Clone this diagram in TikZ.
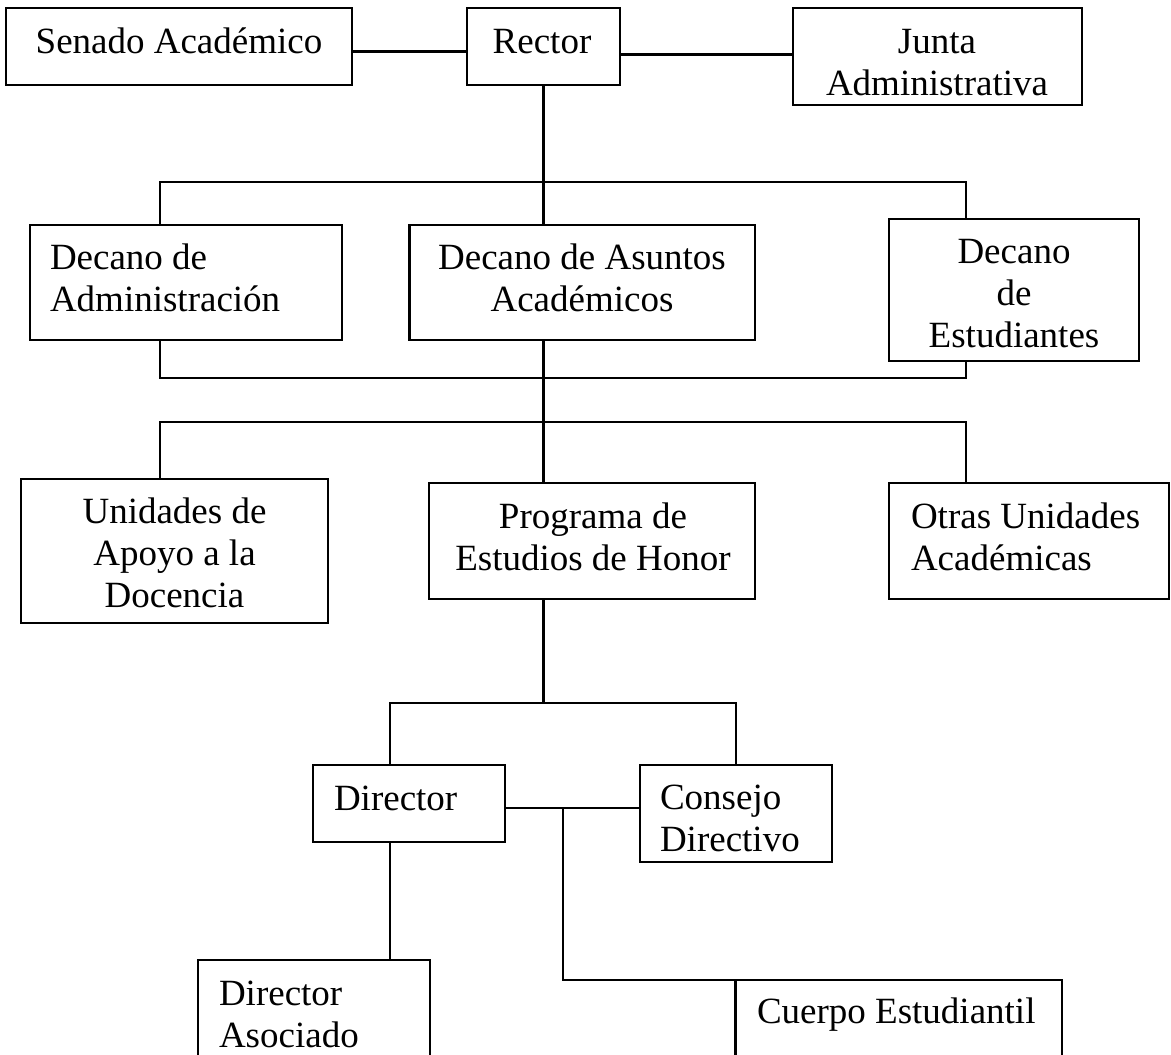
\documentclass[tikz,border=0pt]{standalone}
\usepackage{fontspec}
\setmainfont{Liberation Serif}
\newcommand\mkc[1]{\parbox[t]{420pt}{\centering #1}}
\newcommand\mkl[1]{\parbox[t]{420pt}{\raggedright #1}}
\begin{document}
\begin{tikzpicture}[x=1pt,y=-1pt,
  box/.style={draw, line width=2.2pt, rectangle, inner sep=0pt, outer sep=0pt},
  conn/.style={line width=2.2pt},
  txt/.style={inner sep=0pt, outer sep=0pt, font=\fontsize{37}{42}\selectfont}]
\useasboundingbox (0,0) rectangle (1171,1055);
\clip (0,0) rectangle (1171,1055);
\fill[white] (0,0) rectangle (1171,1055);

% boxes
\node[box, minimum width=346pt, minimum height=77pt] (sen) at (179,46.5) {};
\node[box, minimum width=153pt, minimum height=77pt] (rec) at (543.5,46.5) {};
\node[box, minimum width=289pt, minimum height=97pt] (jun) at (937.5,56.5) {};
\node[box, minimum width=312pt, minimum height=115pt] (dad) at (186,282.5) {};
\node[box, minimum width=345.5pt, minimum height=115pt] (das) at (582.25,282.5) {};
\node[box, minimum width=250pt, minimum height=142pt] (des) at (1014,290) {};
\node[box, minimum width=307pt, minimum height=144pt] (uni) at (174.5,551) {};
\node[box, minimum width=326.4pt, minimum height=116pt] (pro) at (591.8,541) {};
\node[box, minimum width=280pt, minimum height=116pt] (otr) at (1029,541) {};
\node[box, minimum width=192pt, minimum height=77pt] (dir) at (409,803.5) {};
\node[box, minimum width=192pt, minimum height=97pt] (con) at (736,813.5) {};
\node[box, minimum width=232pt, minimum height=120pt] (dasoc) at (313.6,1020) {};
\node[box, minimum width=326.5pt, minimum height=120pt] (cue) at (898.75,1040) {};

% texts
\node[txt, anchor=base] (sen-t) at (179,53) {Senado Académico};
\node[txt, anchor=base] (rec-t) at (542,53) {Rector};
\node[txt, anchor=base] (jun-t) at (937,53) {\mkc{Junta\\Administrativa}};
\node[txt, anchor=base west] (dad-t) at (50,269) {\mkl{Decano de\\Administración}};
\node[txt, anchor=base] (das-t) at (582,269) {\mkc{Decano de Asuntos\\Académicos}};
\node[txt, anchor=base] (des-t) at (1014,263) {\mkc{Decano\\de\\Estudiantes}};
\node[txt, anchor=base] (uni-t) at (174.5,523) {\mkc{Unidades de\\Apoyo a la\\Docencia}};
\node[txt, anchor=base] (pro-t) at (593,528) {\mkc{Programa de\\Estudios de Honor}};
\node[txt, anchor=base west] (otr-t) at (911,528) {\mkl{Otras Unidades\\Académicas}};
\node[txt, anchor=base west] (dir-t) at (334,810) {Director};
\node[txt, anchor=base west] (con-t) at (660,809) {\mkl{Consejo\\Directivo}};
\node[txt, anchor=base west] (dasoc-t) at (219,1005) {\mkl{Director\\Asociado}};
\node[txt, anchor=base west] (cue-t) at (757,1023) {Cuerpo Estudiantil};

% junction coordinates
\coordinate (b1l) at (160,181.7);
\coordinate (b1r) at (966,181.7);
\coordinate (b2l) at (160,378);
\coordinate (b2r) at (966,378);
\coordinate (b3l) at (160,421.7);
\coordinate (b3c) at (543.5,421.7);
\coordinate (b3r) at (966,421.7);
\coordinate (b4l) at (390,702.7);
\coordinate (b4c) at (543.5,702.7);
\coordinate (b4r) at (736,702.7);
\coordinate (j) at (563,808);

% connectors
\draw[conn] ([yshift=-5pt]sen.east) -- ([yshift=-5pt]rec.west);
\draw[conn] ([yshift=-8pt]rec.east) -- ([yshift=-8pt]rec.east -| jun.west);
\draw[conn] (rec.south) -- (das.north -| rec.south);
\draw[conn] (dad.north -| b1l) -- (b1l) -- (b1r) -- (des.north -| b1r);
\draw[conn] (dad.south -| b2l) -- (b2l) -- (b2r) -- (des.south -| b2r);
\draw[conn] (das.south -| b3c) -- (pro.north -| b3c);
\draw[conn] (uni.north -| b3l) -- (b3l) -- (b3r) -- (otr.north -| b3r);
\draw[conn] (pro.south -| b4c) -- (b4c);
\draw[conn] (dir.north -| b4l) -- (b4l) -- (b4r) -- (con.north -| b4r);
\draw[conn] ([yshift=-4.5pt]dir.east) -- ([yshift=-4.5pt]dir.east -| con.west);
\draw[conn] (j) |- (cue.north west);
\draw[conn] (dir.south -| b4l) -- (dasoc.north -| b4l);
\end{tikzpicture}
\end{document}
